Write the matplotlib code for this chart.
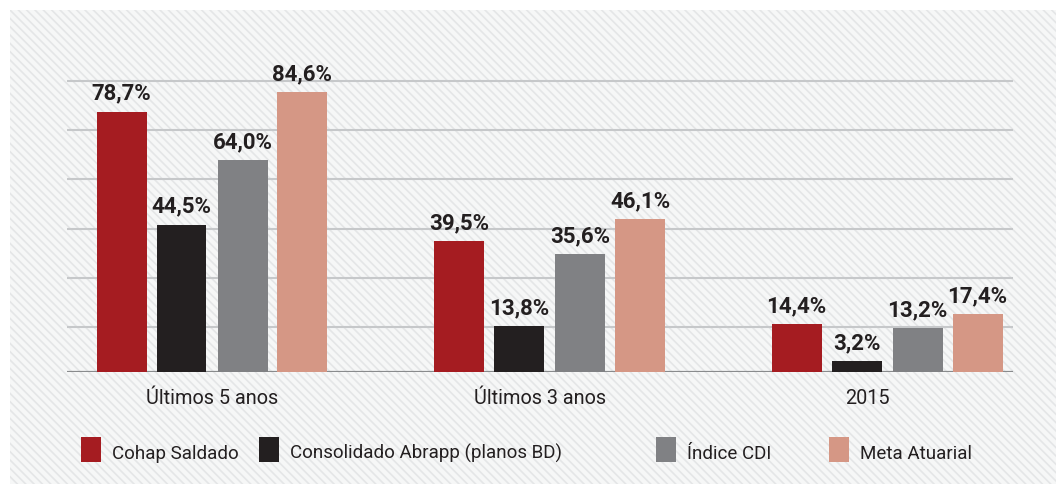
import numpy as np
import matplotlib
matplotlib.use('Agg')
import matplotlib.pyplot as plt
from matplotlib.patches import Rectangle

# data
categories = ['Últimos 5 anos', 'Últimos 3 anos', '2015']
series_names = ['Cohap Saldado', 'Consolidado Abrapp (planos BD)', 'Índice CDI', 'Meta Atuarial']
cohap = [78.7, 39.5, 14.4]
abrapp = [44.5, 13.8, 3.2]
cdi = [64.0, 35.6, 13.2]
meta = [84.6, 46.1, 17.4]
series = [cohap, abrapp, cdi, meta]
colors = ['#a51c21', '#231f20', '#808184', '#d59785']

W, H = 1056, 485
txt_color = '#231f20'
label_font = ['Roboto', 'DejaVu Sans']
value_font = ['Roboto', 'DejaVu Sans']

fig = plt.figure(figsize=(W / 100, H / 100), dpi=100, facecolor='white')
plt.rcParams['hatch.linewidth'] = 1.2

def fx(px):
    return px / W

def fy(py):
    return 1 - py / H

# hatched panel behind everything
bg = Rectangle((fx(10), 0), 1 - fx(10), fy(11), transform=fig.transFigure,
               facecolor='#f6f7f7', edgecolor='#e4e6e7', hatch='\\\\\\\\', linewidth=0, zorder=-10)
fig.add_artist(bg)

ax = fig.add_axes([fx(67), fy(372.5), fx(1013) - fx(67), fy(11) - fy(372.5)])
ax.set_facecolor('none')
for s in ax.spines.values():
    s.set_visible(False)
ax.set_xticks([])
ax.set_yticks([])
ax.set_xlim(-0.4296, 2.373)
ax.set_ylim(0, 109.5)

# gridlines
for g in 13.5 + 14.9 * np.arange(6):
    ax.axhline(g, color='#c6c8ca', lw=1.5, zorder=1)
ax.axhline(0, color='#898b8d', lw=1.6, zorder=1)

x = np.arange(len(categories))
offsets = [-0.268, -0.0904, 0.0904, 0.268]
width = 0.148
for vals, off, c in zip(series, offsets, colors):
    bars = ax.bar(x + off, vals, width, color=c, zorder=2)
    for b, v in zip(bars, vals):
        ax.annotate(f'{v:.1f}%'.replace('.', ','), (b.get_x() + b.get_width() / 2, v),
                    xytext=(0, 9.4), textcoords='offset points', ha='center', va='baseline',
                    fontsize=16, fontweight='bold', family=value_font, color=txt_color)

# category labels
for i, lbl in enumerate(categories):
    ax.annotate(lbl, (i * 0.971, 0), xytext=(0, -22.7), textcoords='offset points',
                ha='center', va='baseline', fontsize=14.3, family=label_font, color=txt_color,
                annotation_clip=False)

# legend
leg_sq_x = [81, 259, 656, 829]
for sx, name, c in zip(leg_sq_x, series_names, colors):
    fig.add_artist(Rectangle((fx(sx), fy(463)), fx(20), 25 / H, transform=fig.transFigure,
                             facecolor=c, linewidth=0))
    fig.text(fx(sx + 31), fy(459), name, ha='left', va='baseline', fontsize=13.5,
             family=label_font, color=txt_color)

fig.savefig('out.png', dpi=100)
